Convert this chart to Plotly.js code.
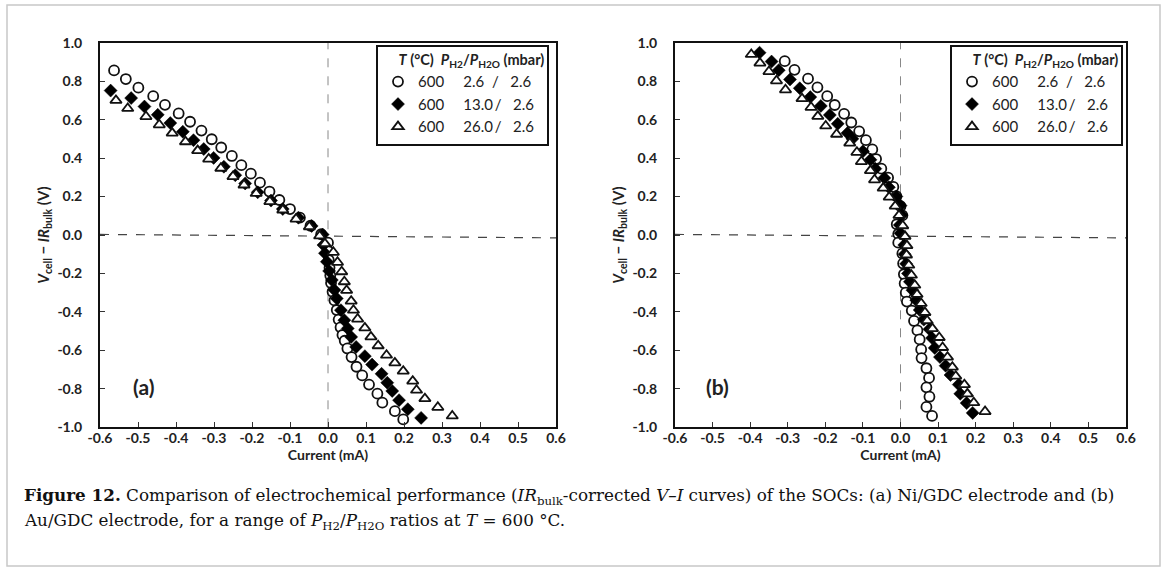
<!DOCTYPE html>
<html><head><meta charset="utf-8">
<script src="https://cdn.plot.ly/plotly-3.0.1.min.js"></script>
<style>html,body{margin:0;padding:0;background:#fff;} #chart{width:1167px;height:571px;}</style>
</head><body><div id="chart"></div>
<script>
// ---------- data: panel (a) Ni/GDC ----------
const aCircleX = [-0.563,-0.532,-0.499,-0.460,-0.429,-0.393,-0.363,-0.333,-0.306,-0.281,-0.253,-0.228,-0.203,-0.179,-0.154,-0.128,-0.100,-0.074,-0.046,-0.018,
  0.000,0.001,0.002,0.004,0.006,0.008,0.012,0.017,0.023,0.028,0.033,0.038,0.044,0.051,0.062,0.075,0.090,0.108,0.130,0.143,0.176,0.198];
const aCircleY = [0.856,0.811,0.766,0.722,0.677,0.632,0.589,0.543,0.498,0.455,0.411,0.363,0.319,0.272,0.226,0.182,0.135,0.090,0.048,0.004,
  -0.040,-0.085,-0.130,-0.170,-0.210,-0.250,-0.295,-0.340,-0.390,-0.440,-0.480,-0.520,-0.550,-0.590,-0.635,-0.685,-0.730,-0.778,-0.825,-0.872,-0.916,-0.959];
const aDiamondX = [-0.572,-0.518,-0.483,-0.448,-0.415,-0.382,-0.354,-0.327,-0.301,-0.274,-0.244,-0.218,-0.185,-0.150,-0.119,-0.078,-0.043,-0.014,
  -0.012,-0.008,-0.003,0.003,0.010,0.017,0.023,0.034,0.043,0.052,0.061,0.074,0.097,0.116,0.141,0.156,0.169,0.187,0.210,0.245];
const aDiamondY = [0.751,0.712,0.668,0.625,0.582,0.537,0.493,0.447,0.401,0.355,0.311,0.268,0.222,0.179,0.135,0.090,0.047,0.002,
  -0.052,-0.095,-0.139,-0.187,-0.234,-0.286,-0.330,-0.391,-0.443,-0.486,-0.530,-0.582,-0.630,-0.674,-0.722,-0.768,-0.811,-0.859,-0.906,-0.951];
const aTriX = [-0.602,-0.558,-0.527,-0.479,-0.444,-0.410,-0.375,-0.343,-0.314,-0.282,-0.250,-0.221,-0.189,-0.153,-0.119,-0.084,-0.049,-0.022,
  -0.008,0.014,0.025,0.036,0.043,0.049,0.061,0.067,0.078,0.097,0.113,0.132,0.154,0.176,0.198,0.223,0.233,0.255,0.289,0.327];
const aTriY = [0.741,0.700,0.658,0.616,0.573,0.530,0.485,0.439,0.395,0.347,0.304,0.260,0.216,0.174,0.130,0.083,0.043,-0.005,
  -0.045,-0.090,-0.142,-0.191,-0.243,-0.288,-0.344,-0.391,-0.437,-0.483,-0.530,-0.576,-0.625,-0.665,-0.708,-0.760,-0.807,-0.851,-0.896,-0.941];

// ---------- data: panel (b) Au/GDC ----------
const bCircleX = [-0.308,-0.282,-0.246,-0.221,-0.195,-0.175,-0.150,-0.131,-0.110,-0.092,-0.075,-0.065,-0.051,-0.033,-0.019,-0.011,0.000,0.005,-0.010,-0.006,
  -0.006,0.005,0.007,0.009,0.011,0.014,0.017,0.030,0.036,0.045,0.051,0.055,0.056,0.069,0.076,0.069,0.077,0.069,0.084];
const bCircleY = [0.904,0.859,0.813,0.768,0.722,0.676,0.630,0.585,0.539,0.493,0.445,0.395,0.345,0.298,0.250,0.202,0.150,0.102,0.056,0.005,
  -0.040,-0.096,-0.148,-0.204,-0.252,-0.300,-0.346,-0.393,-0.447,-0.496,-0.543,-0.595,-0.640,-0.693,-0.743,-0.792,-0.841,-0.894,-0.941];
const bDiamondX = [-0.375,-0.343,-0.324,-0.294,-0.268,-0.240,-0.212,-0.188,-0.167,-0.141,-0.128,-0.100,-0.080,-0.067,-0.043,-0.031,-0.011,0.000,0.003,-0.002,0.000,
  0.010,0.011,0.015,0.020,0.025,0.032,0.042,0.051,0.062,0.077,0.084,0.091,0.105,0.120,0.133,0.155,0.159,0.176,0.192];
const bDiamondY = [0.948,0.902,0.857,0.809,0.763,0.717,0.671,0.624,0.578,0.530,0.500,0.435,0.391,0.345,0.297,0.248,0.200,0.153,0.104,0.052,0.009,
  -0.052,-0.100,-0.150,-0.200,-0.243,-0.287,-0.339,-0.390,-0.440,-0.490,-0.536,-0.587,-0.635,-0.680,-0.728,-0.778,-0.826,-0.874,-0.925];
const bTriX = [-0.397,-0.374,-0.350,-0.330,-0.306,-0.262,-0.238,-0.220,-0.199,-0.170,-0.135,-0.116,-0.104,-0.080,-0.069,-0.046,-0.030,-0.014,-0.004,0.006,0.012,
  0.017,0.016,0.022,0.029,0.038,0.044,0.055,0.065,0.071,0.085,0.103,0.112,0.125,0.138,0.147,0.170,0.178,0.195,0.225];
const bTriY = [0.939,0.894,0.850,0.802,0.755,0.709,0.664,0.617,0.567,0.524,0.478,0.430,0.382,0.335,0.287,0.244,0.197,0.150,0.102,0.048,-0.007,
  -0.055,-0.104,-0.157,-0.209,-0.261,-0.309,-0.356,-0.403,-0.446,-0.487,-0.533,-0.585,-0.635,-0.687,-0.734,-0.778,-0.826,-0.872,-0.918];

// ---------- labels ----------
const NB = '\u00a0';
const seriesNames = ['600' + NB.repeat(5) + '2.6' + NB.repeat(2) + '/' + NB.repeat(3) + '2.6',
                     '600' + NB.repeat(5) + '13.0\u2009/' + NB.repeat(3) + '2.6',
                     '600' + NB.repeat(5) + '26.0\u2009/' + NB.repeat(3) + '2.6'];
const legendTitle = NB.repeat(5) + '<b><i>T</i> (°C)' + NB + ' <i>P</i><sub>H2</sub>/<i>P</i><sub>H2O</sub> (mbar)</b>';
const xTickVals = [-0.6,-0.5,-0.4,-0.3,-0.2,-0.1,0.0,0.1,0.2,0.3,0.4,0.5,0.6];
const xTickText = ['-0.6','-0.5','-0.4','-0.3','-0.2','-0.1','0.0','0.1','0.2','0.3','0.4','0.5','0.6'];
const yTickVals = [-1.0,-0.8,-0.6,-0.4,-0.2,0.0,0.2,0.4,0.6,0.8,1.0];
const yTickText = ['-1.0','-0.8','-0.6','-0.4','-0.2','0.0','0.2','0.4','0.6','0.8','1.0'];
const panelLabels = ['(a)','(b)'];
const xTitle = 'Current (mA)';
const yTitle = '<i>V</i><sub>cell</sub> \u2212 <i>IR</i><sub>bulk</sub> (V)';
const caption1 = '<b>Figure 12.</b> Comparison of electrochemical performance (<i>IR</i><sub>bulk</sub>-corrected <i>V–I</i> curves) of the SOCs: (a) Ni/GDC electrode and (b)';
const caption2 = 'Au/GDC electrode, for a range of <i>P</i><sub>H2</sub>/<i>P</i><sub>H2O</sub> ratios at <i>T</i> = 600 °C.';

// ---------- build ----------
const W = 1167, H = 571;
const mk = {
  circle: {symbol:'circle', size:10, color:'#fff', line:{color:'#111', width:1.8}},
  diamond:{symbol:'diamond', size:10, color:'#000', line:{color:'#000', width:0.5}},
  tri:    {symbol:'triangle-up', size:10, color:'#fff', line:{color:'#111', width:1.8}}
};
function tr(x, y, m, name, xa, ya, lg) {
  return {type:'scatter', mode:'markers', x:x, y:y, marker:m, name:name,
          xaxis:xa, yaxis:ya, legend:lg, cliponaxis:false, hoverinfo:'x+y'};
}
const data = [
  tr(aCircleX, aCircleY, mk.circle, seriesNames[0], 'x', 'y', 'legend'),
  tr(aDiamondX, aDiamondY, mk.diamond, seriesNames[1], 'x', 'y', 'legend'),
  tr(aTriX, aTriY, mk.tri, seriesNames[2], 'x', 'y', 'legend'),
  tr(bCircleX, bCircleY, mk.circle, seriesNames[0], 'x2', 'y2', 'legend2'),
  tr(bDiamondX, bDiamondY, mk.diamond, seriesNames[1], 'x2', 'y2', 'legend2'),
  tr(bTriX, bTriY, mk.tri, seriesNames[2], 'x2', 'y2', 'legend2')
];

const FAM = 'Lato, "Open Sans", sans-serif';
const tickFont = {family:FAM, size:14, color:'#222', weight:'bold'};
const titleFont = {family:FAM, size:14, color:'#222', weight:'bold'};
function xax(dom, anchor) {
  return {domain:dom, anchor:anchor, range:[-0.6,0.6], tickvals:xTickVals, ticktext:xTickText,
    ticks:'inside', ticklen:5, tickwidth:1, tickcolor:'#333', showgrid:false, zeroline:false,
    showline:true, linecolor:'#111', linewidth:2, mirror:true, tickfont:tickFont,
    ticklabelstandoff:-3, automargin:false,
    title:{text:xTitle, font:titleFont, standoff:0}};
}
function yax(dom, anchor) {
  return {domain:dom, anchor:anchor, range:[-1,1], tickvals:yTickVals, ticktext:yTickText,
    ticks:'inside', ticklen:5, tickwidth:1, tickcolor:'#333', showgrid:false, zeroline:false,
    showline:true, linecolor:'#111', linewidth:2, mirror:true, tickfont:tickFont,
    ticklabelstandoff:13, automargin:false,
    title:{text:yTitle, font:{family:FAM, size:15, color:'#222', weight:'bold'}, standoff:4}};
}
const yDom = [(H-427.3)/H, (H-42.7)/H];
const legendCommon = {
  bgcolor:'#fff', bordercolor:'#111', borderwidth:2,
  font:{family:FAM, size:15, color:'#222'},
  title:{text:legendTitle, font:{family:FAM, size:14.5, color:'#222'}, side:'top'},
  xanchor:'right', yanchor:'top', itemwidth:30, itemclick:false, itemdoubleclick:false
};
const layout = {
  width:W, height:H, margin:{l:0,r:0,t:0,b:0}, paper_bgcolor:'#fff', plot_bgcolor:'#fff',
  showlegend:true,
  xaxis: xax([100/W, 556/W], 'y'),
  yaxis: yax(yDom, 'x'),
  xaxis2: xax([675/W, 1126/W], 'y2'),
  yaxis2: yax(yDom, 'x2'),
  legend: Object.assign({}, legendCommon, {x:549/W, y:1-44.5/H}),
  legend2: Object.assign({}, legendCommon, {x:1123/W, y:1-44.5/H}),
  shapes: [
    {type:'rect', xref:'paper', yref:'paper', x0:7/W, x1:1160/W, y0:1-566/H, y1:1-5/H, line:{color:'#c8c8c8', width:1.5}, layer:'below'},
    {type:'line', xref:'x', yref:'y', x0:0, x1:0, y0:-1, y1:1, line:{color:'#888', width:1, dash:'dash'}, layer:'below'},
    {type:'line', xref:'x', yref:'y', x0:-0.6, x1:0.6, y0:0.003, y1:-0.015, line:{color:'#444', width:1.2, dash:'dash'}, layer:'below'},
    {type:'line', xref:'x2', yref:'y2', x0:0, x1:0, y0:-1, y1:1, line:{color:'#888', width:1, dash:'dash'}, layer:'below'},
    {type:'line', xref:'x2', yref:'y2', x0:-0.6, x1:0.6, y0:0.003, y1:-0.015, line:{color:'#444', width:1.2, dash:'dash'}, layer:'below'}
  ],
  annotations: [
    {xref:'x domain', yref:'y domain', x:0.096, y:0.105, xanchor:'center', yanchor:'middle', text:'<b>'+panelLabels[0]+'</b>', showarrow:false,
     font:{family:FAM, size:21, color:'#222'}},
    {xref:'x2 domain', yref:'y2 domain', x:0.095, y:0.105, xanchor:'center', yanchor:'middle', text:'<b>'+panelLabels[1]+'</b>', showarrow:false,
     font:{family:FAM, size:21, color:'#222'}},
    {xref:'paper', yref:'paper', x:22/W, y:1-496/H, xanchor:'left', yanchor:'middle', align:'left', showarrow:false,
     text:caption1, font:{family:'"DejaVu Serif", "Liberation Serif", serif', size:16.8, color:'#111'}},
    {xref:'paper', yref:'paper', x:22/W, y:1-521/H, xanchor:'left', yanchor:'middle', align:'left', showarrow:false,
     text:caption2, font:{family:'"DejaVu Serif", "Liberation Serif", serif', size:16.8, color:'#111'}}
  ]
};
Plotly.newPlot('chart', data, layout, {staticPlot:true, displayModeBar:false});
</script></body></html>
